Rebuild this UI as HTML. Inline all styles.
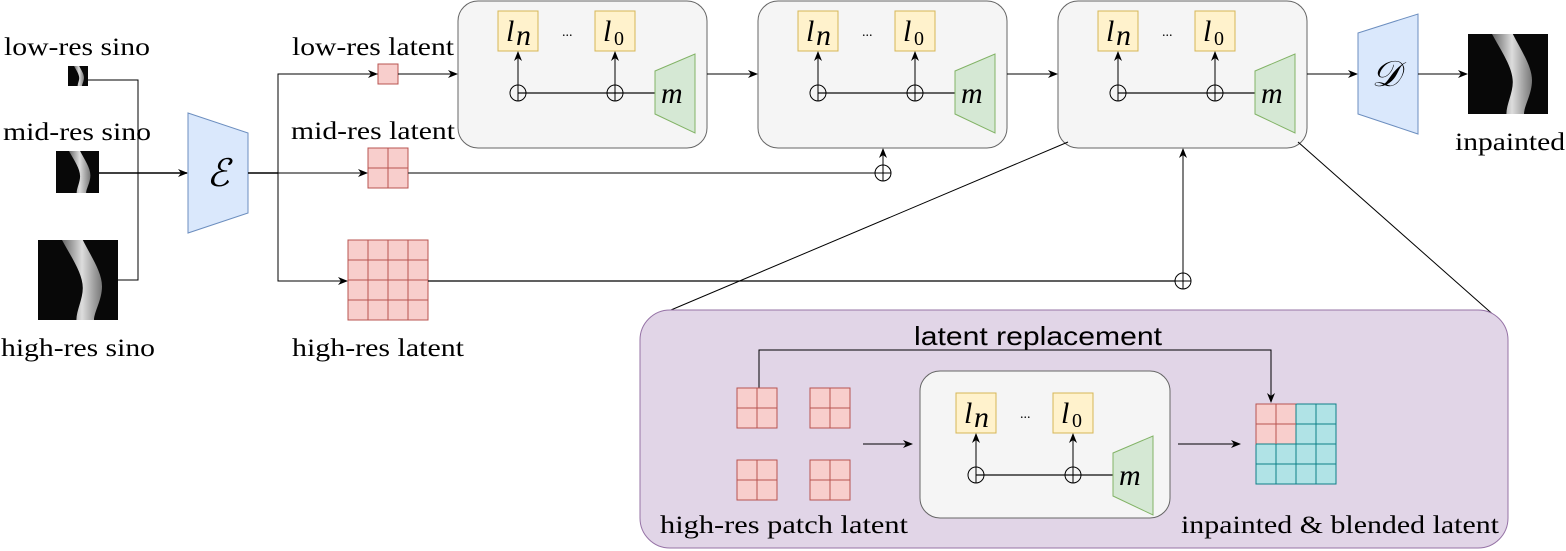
<!DOCTYPE html>
<html><head><meta charset="utf-8"><style>
html,body{margin:0;padding:0;background:#fff;}
svg{display:block;}
.t{font-family:"Liberation Serif","Times New Roman",serif;font-size:25px;fill:#000;}
.s{font-family:"Liberation Sans",Arial,sans-serif;font-size:26px;fill:#000;}
.m{font-family:"Liberation Serif","Times New Roman",serif;font-style:italic;font-size:30px;}
</style></head><body>
<svg width="1566" height="551" viewBox="0 0 1566 551" xmlns="http://www.w3.org/2000/svg">
<defs>
<marker id="a" markerWidth="10" markerHeight="10" refX="9" refY="5" orient="auto" markerUnits="userSpaceOnUse">
<path d="M0,1 L10,5 L0,9 L3,5 z" fill="#000"/></marker>
<linearGradient id="band" x1="0" x2="1">
<stop offset="0" stop-color="#666"/><stop offset="0.5" stop-color="#ddd"/><stop offset="1" stop-color="#777"/></linearGradient>
<symbol id="sino" viewBox="0 0 100 100" preserveAspectRatio="none">
<rect width="100" height="100" fill="#080808"/>
<path d="M30,0 L56,0 C66,20 80,40 80,58 C80,75 70,90 70,100 L48,100 C48,88 56,74 56,60 C56,42 42,22 30,0 z" fill="url(#band)"/>
</symbol>
<g id="mod">
<rect x="0" y="0" width="40" height="40" fill="#fff2cc" stroke="#d6b656"/>
<text x="8" y="30" class="m">l</text><text x="18" y="34" class="m" font-size="20">n</text>
<rect x="97" y="0" width="40" height="40" fill="#fff2cc" stroke="#d6b656"/>
<text x="105" y="30" class="m">l</text><text x="116" y="34" font-family="Liberation Serif,serif" font-size="20">0</text>
<text x="64" y="25" font-family="Liberation Serif,serif" font-size="14">...</text>
<line x1="20" y1="82" x2="157" y2="82" stroke="#333" stroke-width="1.5"/>
<line x1="20" y1="74" x2="20" y2="41" stroke="#000" marker-end="url(#a)"/>
<line x1="117" y1="74" x2="117" y2="41" stroke="#000" marker-end="url(#a)"/>
<circle cx="20" cy="82" r="8" fill="none" stroke="#000"/><line x1="20" y1="74" x2="20" y2="90" stroke="#000"/>
<circle cx="117" cy="82" r="8" fill="none" stroke="#000"/><line x1="117" y1="74" x2="117" y2="90" stroke="#000"/>
<path d="M157,60 L197,43 L197,122 L157,103 z" fill="#d5e8d4" stroke="#82b366"/>
<text x="163" y="92" class="m" font-size="32">m</text>
</g>
</defs>

<text x="77" y="55" class="t" text-anchor="middle" textLength="146" lengthAdjust="spacingAndGlyphs">low-res sino</text>
<use href="#sino" x="68" y="66" width="20" height="20"/>
<text x="77" y="140" class="t" text-anchor="middle" textLength="148" lengthAdjust="spacingAndGlyphs">mid-res sino</text>
<use href="#sino" x="56" y="151" width="43" height="42"/>
<use href="#sino" x="38" y="240" width="80" height="80"/>
<text x="78" y="356" class="t" text-anchor="middle" textLength="154" lengthAdjust="spacingAndGlyphs">high-res sino</text>
<polyline points="88,80 138,80 138,280 118,280" fill="none" stroke="#000"/>
<line x1="99" y1="173" x2="187" y2="173" stroke="#000" stroke-width="1.5" marker-end="url(#a)"/>

<path d="M188,113 L248,133 L248,213 L188,233 z" fill="#dae8fc" stroke="#6c8ebf"/>
<text x="218" y="186" font-family="Liberation Serif,serif" font-style="italic" font-size="38" text-anchor="middle">ℰ</text>
<line x1="248" y1="173" x2="278" y2="173" stroke="#000" stroke-width="1.5"/>
<polyline points="378,74 278,74 278,281 346,281" fill="none" stroke="#000"/>
<line x1="340" y1="74" x2="377" y2="74" stroke="#000" marker-end="url(#a)"/>
<line x1="346" y1="281" x2="347" y2="281" stroke="#000" marker-end="url(#a)"/>
<line x1="278" y1="173" x2="367" y2="173" stroke="#000" marker-end="url(#a)"/>

<text x="373" y="55" class="t" text-anchor="middle" textLength="162" lengthAdjust="spacingAndGlyphs">low-res latent</text>
<rect x="378" y="64" width="20" height="20" fill="#f8cecc" stroke="#b85450"/>
<line x1="398" y1="74" x2="457" y2="74" stroke="#000" marker-end="url(#a)"/>
<text x="373" y="139" class="t" text-anchor="middle" textLength="164" lengthAdjust="spacingAndGlyphs">mid-res latent</text>
<g fill="#f8cecc" stroke="#b85450">
<rect x="368" y="148" width="20" height="20"/><rect x="388" y="148" width="20" height="20"/>
<rect x="368" y="168" width="20" height="20"/><rect x="388" y="168" width="20" height="20"/>
</g>
<g fill="#f8cecc" stroke="#b85450">
<rect x="348" y="240" width="80" height="80"/>
<path d="M368,240 V320 M388,240 V320 M408,240 V320 M348,260 H428 M348,280 H428 M348,300 H428" fill="none"/>
</g>
<text x="378" y="356" class="t" text-anchor="middle" textLength="172" lengthAdjust="spacingAndGlyphs">high-res latent</text>

<line x1="408" y1="173" x2="875" y2="173" stroke="#333" stroke-width="1.2"/>
<circle cx="883" cy="173" r="8" fill="none" stroke="#000"/><path d="M875,173 H891 M883,165 V181" stroke="#000"/>
<line x1="883" y1="165" x2="883" y2="149" stroke="#000" marker-end="url(#a)"/>
<line x1="428" y1="281" x2="1175" y2="281" stroke="#000" stroke-width="1.2"/>
<circle cx="1183" cy="281" r="8" fill="none" stroke="#000"/><path d="M1175,281 H1191 M1183,273 V289" stroke="#000"/>
<line x1="1183" y1="273" x2="1183" y2="149" stroke="#000" marker-end="url(#a)"/>

<rect x="458" y="1" width="249" height="147" rx="20" fill="#f5f5f5" stroke="#666"/>
<use href="#mod" x="498" y="11"/>
<rect x="758" y="1" width="249" height="147" rx="20" fill="#f5f5f5" stroke="#666"/>
<use href="#mod" x="798" y="11"/>
<rect x="1058" y="1" width="249" height="147" rx="20" fill="#f5f5f5" stroke="#666"/>
<use href="#mod" x="1098" y="11"/>
<line x1="707" y1="74" x2="757" y2="74" stroke="#000" marker-end="url(#a)"/>
<line x1="1007" y1="74" x2="1057" y2="74" stroke="#000" marker-end="url(#a)"/>
<line x1="1307" y1="74" x2="1357" y2="74" stroke="#000" marker-end="url(#a)"/>

<path d="M1358,33 L1418,14 L1418,134 L1358,114 z" fill="#dae8fc" stroke="#6c8ebf"/>
<text x="1386" y="86" font-family="Liberation Serif,serif" font-style="italic" font-size="36" text-anchor="middle">𝒟</text>
<line x1="1418" y1="74" x2="1467" y2="74" stroke="#000" marker-end="url(#a)"/>
<use href="#sino" x="1468" y="34" width="80" height="80"/>
<text x="1510" y="150" class="t" text-anchor="middle" textLength="110" lengthAdjust="spacingAndGlyphs">inpainted</text>

<line x1="1068" y1="142" x2="652" y2="318" stroke="#000"/>
<line x1="1298" y1="142" x2="1497" y2="318" stroke="#000"/>

<rect x="640" y="310" width="868" height="238" rx="30" fill="#e1d5e7" stroke="#9673a6"/>
<text x="1038" y="345" class="s" text-anchor="middle" textLength="248" lengthAdjust="spacingAndGlyphs">latent replacement</text>
<polyline points="759,388 759,350 1271,350 1271,402" fill="none" stroke="#000" marker-end="url(#a)"/>
<g fill="#f8cecc" stroke="#b85450">
<rect x="737" y="388" width="40" height="40"/><path d="M757,388 V428 M737,408 H777"/>
<rect x="810" y="388" width="40" height="40"/><path d="M830,388 V428 M810,408 H850"/>
<rect x="737" y="460" width="40" height="40"/><path d="M757,460 V500 M737,480 H777"/>
<rect x="810" y="460" width="40" height="40"/><path d="M830,460 V500 M810,480 H850"/>
</g>
<line x1="863" y1="444" x2="912" y2="444" stroke="#000" marker-end="url(#a)"/>
<rect x="920" y="371" width="250" height="147" rx="20" fill="#f5f5f5" stroke="#666"/>
<use href="#mod" x="956" y="393"/>
<line x1="1178" y1="444" x2="1240" y2="444" stroke="#000" marker-end="url(#a)"/>
<rect x="1256" y="404" width="80" height="80" stroke="#0e8088" fill="#b0e3e6"/>
<rect x="1256" y="404" width="40" height="40" stroke="#b85450" fill="#f8cecc"/>
<path d="M1276,404 V484 M1296,404 V484 M1316,404 V484 M1256,424 H1336 M1256,444 H1336 M1256,464 H1336" stroke="#0e8088" fill="none"/>
<path d="M1276,404 V444 M1256,424 H1296" stroke="#b85450" fill="none"/>
<text x="784" y="533" class="t" text-anchor="middle" textLength="248" lengthAdjust="spacingAndGlyphs">high-res patch latent</text>
<text x="1340" y="533" class="t" text-anchor="middle" textLength="318" lengthAdjust="spacingAndGlyphs">inpainted &amp; blended latent</text>
</svg>
</body></html>
